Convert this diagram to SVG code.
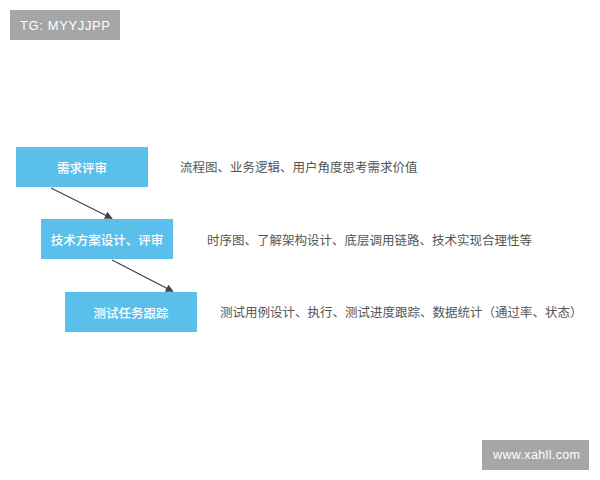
<svg xmlns="http://www.w3.org/2000/svg" width="600" height="480" viewBox="0 0 600 480">
<style>
.node{fill:#5bbfec;}
.nt{font-family:"Noto Sans CJK SC","Noto Sans",sans-serif;font-size:12.5px;font-weight:500;fill:#ffffff;text-anchor:middle;dominant-baseline:central;}
.desc{font-family:"Noto Sans CJK SC","Noto Sans",sans-serif;font-size:12.5px;fill:#555555;}
.wm{fill:#a6a6a6;}
.wmt{font-family:"Liberation Sans",Arial,sans-serif;fill:#ffffff;dominant-baseline:central;}
.conn{stroke:#444444;stroke-width:1.3;fill:none;marker-end:url(#ah);}
</style>
<defs>
<marker id="ah" viewBox="0 0 10 10" refX="9" refY="5" markerWidth="8" markerHeight="8" markerUnits="userSpaceOnUse" orient="auto">
<path d="M0,0 L10,5 L0,10 z" fill="#444444"/>
</marker>
</defs>
<rect width="600" height="480" fill="#ffffff"/>
<g id="wm-top">
<rect class="wm" x="10" y="10" width="110" height="30"/>
<text class="wmt" x="20" y="25.5" font-size="13" textLength="90" lengthAdjust="spacing">TG: MYYJJPP</text>
</g>
<g id="wm-bottom">
<rect class="wm" x="482" y="440" width="107" height="30"/>
<text class="wmt" x="493" y="455" font-size="12.5" textLength="87" lengthAdjust="spacing">www.xahll.com</text>
</g>
<g id="connectors">
<line class="conn" x1="51" y1="188" x2="112" y2="218.5"/>
<line class="conn" x1="112" y1="260" x2="173" y2="291.5"/>
</g>
<g id="node1">
<rect class="node" x="16" y="147" width="132" height="40"/>
<text class="nt" x="82" y="167">需求评审</text>
</g>
<g id="node2">
<rect class="node" x="41" y="219" width="132" height="40"/>
<text class="nt" x="107" y="239">技术方案设计、评审</text>
</g>
<g id="node3">
<rect class="node" x="65" y="292" width="132" height="40"/>
<text class="nt" x="131" y="312">测试任务跟踪</text>
</g>
<g id="desc1"><text class="desc" x="180" y="172">流程图、业务逻辑、用户角度思考需求价值</text></g>
<g id="desc2"><text class="desc" x="207" y="245">时序图、了解架构设计、底层调用链路、技术实现合理性等</text></g>
<g id="desc3"><text class="desc" x="220" y="317">测试用例设计、执行、测试进度跟踪、数据统计（通过率、状态）</text></g>
</svg>
